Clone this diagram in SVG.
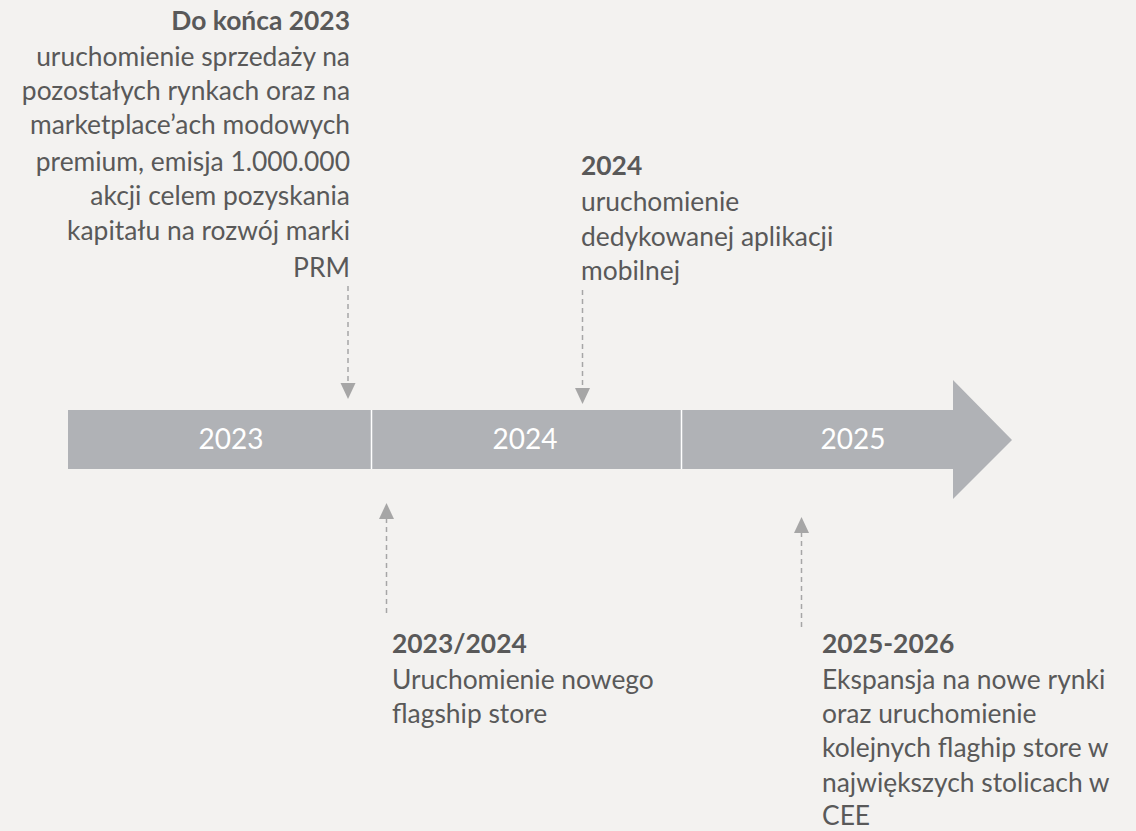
<svg xmlns="http://www.w3.org/2000/svg" width="1136" height="831" viewBox="0 0 1136 831">
  <defs>
    <style>
      .txt { font-family: Lato, "Open Sans", sans-serif; font-size: 26.4px; fill: #595959; }
      .hd { font-weight: bold; }
      .yr { font-family: Lato, "Open Sans", sans-serif; font-size: 28px; fill: #ffffff; text-anchor: middle; }
      .dash { stroke: #a6a6a6; stroke-width: 1.5; stroke-dasharray: 5 4; fill: none; }
      .head { fill: #a6a6a6; }
      .sep { stroke: #ffffff; stroke-width: 1.5; }
    </style>
  </defs>
  <rect width="1136" height="831" fill="#f3f2f0"/>

  <!-- timeline arrow -->
  <g id="timeline">
    <path d="M68 410 H953 V380 L1012 440 L953 499 V469 H68 Z" fill="#b0b2b6"/>
    <line class="sep" x1="371.5" y1="410" x2="371.5" y2="469"/>
    <line class="sep" x1="681.5" y1="410" x2="681.5" y2="469"/>
    <text class="yr" x="231" y="449">2023</text>
    <text class="yr" x="525" y="449">2024</text>
    <text class="yr" x="853" y="449">2025</text>
  </g>

  <!-- connectors -->
  <g id="connectors">
    <line class="dash" x1="348" y1="286" x2="348" y2="384"/>
    <polygon class="head" points="340.5,383 355.5,383 348,399"/>
    <line class="dash" x1="582.5" y1="290" x2="582.5" y2="389"/>
    <polygon class="head" points="575,388 590,388 582.5,404"/>
    <line class="dash" x1="386.5" y1="518" x2="386.5" y2="617"/>
    <polygon class="head" points="379,519 394,519 386.5,503"/>
    <line class="dash" x1="801.5" y1="532" x2="801.5" y2="629"/>
    <polygon class="head" points="794,533 809,533 801.5,517"/>
  </g>

  <g id="note-2023" text-anchor="end">
    <text class="txt hd" x="350" y="30">Do końca 2023</text>
    <text class="txt" x="350" y="66">uruchomienie sprzedaży na</text>
    <text class="txt" x="350" y="100">pozostałych rynkach oraz na</text>
    <text class="txt" x="350" y="134">marketplace’ach modowych</text>
    <text class="txt" x="350" y="171">premium, emisja 1.000.000</text>
    <text class="txt" x="350" y="205">akcji celem pozyskania</text>
    <text class="txt" x="350" y="240">kapitału na rozwój marki</text>
    <text class="txt" x="350" y="277">PRM</text>
  </g>

  <g id="note-2024">
    <text class="txt hd" x="581" y="175">2024</text>
    <text class="txt" x="581" y="211">uruchomienie</text>
    <text class="txt" x="581" y="246">dedykowanej aplikacji</text>
    <text class="txt" x="581" y="280">mobilnej</text>
  </g>

  <g id="note-2023-2024">
    <text class="txt hd" x="392" y="653">2023/2024</text>
    <text class="txt" x="392" y="689">Uruchomienie nowego</text>
    <text class="txt" x="392" y="723">flagship store</text>
  </g>

  <g id="note-2025-2026">
    <text class="txt hd" x="822" y="653">2025-2026</text>
    <text class="txt" x="822" y="689">Ekspansja na nowe rynki</text>
    <text class="txt" x="822" y="723">oraz uruchomienie</text>
    <text class="txt" x="822" y="757">kolejnych flaghip store w</text>
    <text class="txt" x="822" y="792">największych stolicach w</text>
    <text class="txt" x="822" y="825">CEE</text>
  </g>
</svg>
